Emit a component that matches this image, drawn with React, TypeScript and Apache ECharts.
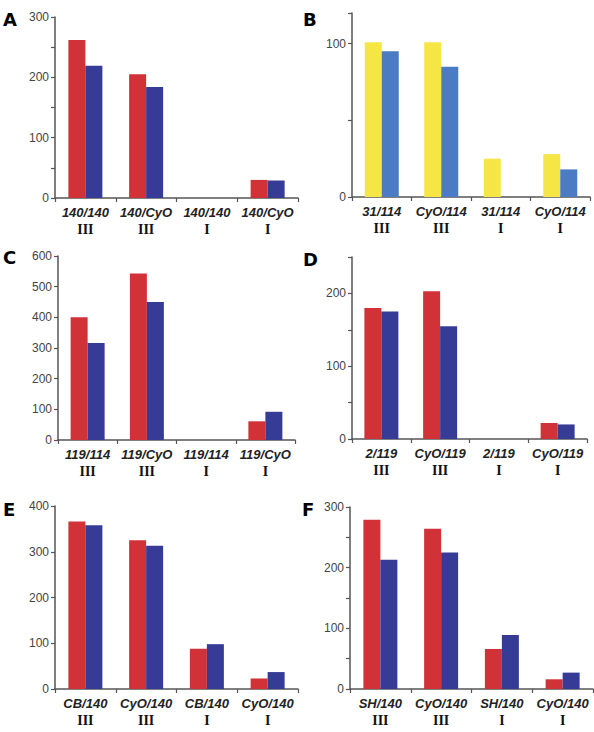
import React, { useEffect, useRef } from "react";
import * as echarts from "echarts";

const catsA = ["140/140", "140/CyO", "140/140", "140/CyO"];
const chrA = ["III", "III", "I", "I"];
const redA = [262, 205, 0, 30];
const blueA = [219, 184, 0, 29];

const catsB = ["31/114", "CyO/114", "31/114", "CyO/114"];
const chrB = ["III", "III", "I", "I"];
const yellowB = [101, 101, 25, 28];
const lightBlueB = [95, 85, 0, 18];

const catsC = ["119/114", "119/CyO", "119/114", "119/CyO"];
const chrC = ["III", "III", "I", "I"];
const redC = [400, 543, 0, 61];
const blueC = [316, 450, 0, 92];

const catsD = ["2/119", "CyO/119", "2/119", "CyO/119"];
const chrD = ["III", "III", "I", "I"];
const redD = [180, 203, 0, 22];
const blueD = [175, 155, 0, 20];

const catsE = ["CB/140", "CyO/140", "CB/140", "CyO/140"];
const chrE = ["III", "III", "I", "I"];
const redE = [366, 325, 88, 23];
const blueE = [358, 313, 98, 37];

const catsF = ["SH/140", "CyO/140", "SH/140", "CyO/140"];
const chrF = ["III", "III", "I", "I"];
const redF = [279, 264, 66, 16];
const blueF = [213, 225, 89, 27];

const RED = "#d03238";
const NAVY = "#363b96";
const YELLOW = "#f6e645";
const LBLUE = "#4a7bc3";

const panels = [
  { letter: "A", cats: catsA, chr: chrA, s1: redA, s2: blueA, c1: RED, c2: NAVY, max: 300, interval: 50, labelStep: 100,
    grid: { left: 55, top: 17, width: 243, height: 181 }, lx: 3, ly: 10 },
  { letter: "B", cats: catsB, chr: chrB, s1: yellowB, s2: lightBlueB, c1: YELLOW, c2: LBLUE, max: 120, interval: 50, labelStep: 100,
    grid: { left: 352, top: 13, width: 238, height: 184 }, lx: 303, ly: 10 },
  { letter: "C", cats: catsC, chr: chrC, s1: redC, s2: blueC, c1: RED, c2: NAVY, max: 600, interval: 100, labelStep: 100,
    grid: { left: 58, top: 256, width: 237, height: 184 }, lx: 3, ly: 248 },
  { letter: "D", cats: catsD, chr: chrD, s1: redD, s2: blueD, c1: RED, c2: NAVY, max: 250, interval: 50, labelStep: 100,
    grid: { left: 352, top: 257, width: 235, height: 182 }, lx: 303, ly: 250 },
  { letter: "E", cats: catsE, chr: chrE, s1: redE, s2: blueE, c1: RED, c2: NAVY, max: 400, interval: 100, labelStep: 100,
    grid: { left: 55, top: 506, width: 243, height: 183 }, lx: 3, ly: 500 },
  { letter: "F", cats: catsF, chr: chrF, s1: redF, s2: blueF, c1: RED, c2: NAVY, max: 300, interval: 50, labelStep: 100,
    grid: { left: 350, top: 507, width: 243, height: 182 }, lx: 302, ly: 500 },
];

export default function App() {
  const ref = useRef<HTMLDivElement>(null);
  useEffect(() => {
    if (!ref.current) return;
    const chart = echarts.init(ref.current, undefined, { renderer: "svg" });
    const axisLine = { show: true, lineStyle: { color: "#555", width: 1.5 } };
    const grids: any[] = [];
    const xAxes: any[] = [];
    const yAxes: any[] = [];
    const series: any[] = [];
    const graphics: any[] = [];
    panels.forEach((p, i) => {
      grids.push({ ...p.grid, containLabel: false });
      const labelsMap = p.cats.map((c, k) => `{a|${c}}\n{b|${p.chr[k]}}`);
      xAxes.push({
        type: "category",
        gridIndex: i,
        data: p.cats,
        boundaryGap: true,
        axisLine,
        axisTick: { show: true, length: 4, alignWithLabel: false, lineStyle: { color: "#555", width: 1.2 } },
        axisLabel: {
          interval: 0,
          margin: 6,
          formatter: (_v: string, idx: number) => labelsMap[idx],
          rich: {
            a: { fontFamily: "Liberation Sans", fontStyle: "italic", fontWeight: "bold", fontSize: 13, color: "#222", lineHeight: 17 },
            b: { fontFamily: "Liberation Serif", fontWeight: "bold", fontSize: 14, color: "#111", lineHeight: 17 },
          },
        },
        splitLine: { show: false },
      });
      yAxes.push({
        type: "value",
        gridIndex: i,
        min: 0,
        max: p.max,
        interval: p.interval,
        axisLine,
        axisTick: { show: true, length: 4, lineStyle: { color: "#555", width: 1.2 } },
        axisLabel: {
          margin: 6,
          fontFamily: "Liberation Sans",
          fontSize: 12,
          color: "#444",
          formatter: (v: number) => (v % p.labelStep === 0 ? String(v) : ""),
        },
        splitLine: { show: false },
      });
      series.push({
        type: "bar",
        xAxisIndex: i,
        yAxisIndex: i,
        data: p.s1,
        barWidth: 17,
        barGap: "0%",
        itemStyle: { color: p.c1 },
      });
      series.push({
        type: "bar",
        xAxisIndex: i,
        yAxisIndex: i,
        data: p.s2,
        barWidth: 17,
        barGap: "0%",
        itemStyle: { color: p.c2 },
      });
      graphics.push({
        type: "text",
        left: p.lx,
        top: p.ly,
        style: { text: p.letter, fontFamily: "DejaVu Sans", fontWeight: "bold", fontSize: 18, fill: "#000" },
      });
    });
    chart.setOption({
      animation: false,
      backgroundColor: "#fff",
      grid: grids,
      xAxis: xAxes,
      yAxis: yAxes,
      series,
      graphic: graphics,
    });
    return () => chart.dispose();
  }, []);
  return (
    <div
      ref={ref}
      style={{ position: "fixed", left: 0, top: 0, width: 594, height: 732, background: "#fff" }}
    />
  );
}
